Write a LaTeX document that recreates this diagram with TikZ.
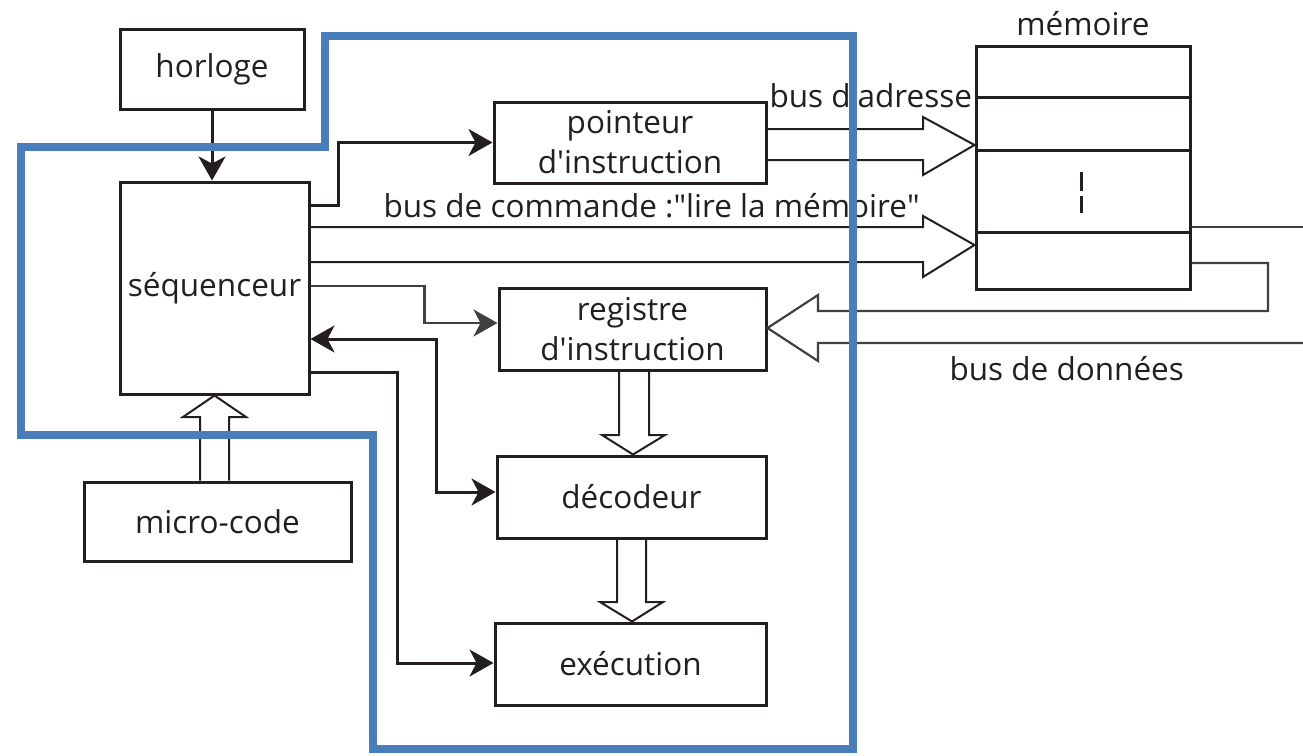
\documentclass[tikz,border=0pt]{standalone}
\usepackage{fontspec}
\setmainfont{Open Sans}
\usetikzlibrary{arrows.meta,calc}
\definecolor{ink}{HTML}{231F20}
\definecolor{wire}{HTML}{404040}
\definecolor{zone}{HTML}{4A7EBB}
\begin{document}
\begin{tikzpicture}[x=1pt,y=-1pt,
  txt/.style={font=\fontsize{31.5}{40}\selectfont, text=ink},
  box/.style={txt, draw=ink, line width=3pt, inner sep=0pt, align=center},
  conn/.style={draw=ink, line width=3pt,
    -{Stealth[length=24pt,width=27pt,inset=7pt]}},
  biconn/.style={draw=ink, line width=3pt,
    {Stealth[length=24pt,width=27pt,inset=7pt]}-{Stealth[length=24pt,width=27pt,inset=7pt]}},
  thinconn/.style={draw=wire, line width=2.2pt,
    -{Stealth[length=24pt,width=27pt,inset=7pt]}},
  hollow/.style={draw=ink, line width=2pt, line join=miter},
  databus/.style={draw=wire, line width=2.2pt, line join=miter},
  zoneline/.style={draw=zone, line width=8pt, line join=miter}]
\useasboundingbox (0,0) rectangle (1303,755);

% --- blocks ---
\node[box, minimum width=184pt, minimum height=80pt]  (clk)  at (212,69)     {horloge};
\node[box, minimum width=189pt, minimum height=212pt] (seq)  at (214.5,288)  {séquenceur};
\node[box, minimum width=267pt, minimum height=79pt]  (ucode) at (217.5,521.5) {micro-code};
\node[box, minimum width=272pt, minimum height=81pt]  (ip)   at (630,142.5)  {pointeur\\d\textquotesingle instruction};
\node[box, minimum width=267pt, minimum height=82pt]  (ir)   at (632.5,329)  {registre\\d\textquotesingle instruction};
\node[box, minimum width=269pt, minimum height=82pt]  (dec)  at (631.5,497)  {décodeur};
\node[box, minimum width=271pt, minimum height=82pt]  (exe)  at (630.5,664)  {exécution};

% memory with its cells
\node[draw=ink, line width=3pt, inner sep=0pt, minimum width=214pt, minimum height=243pt] (mem) at (1083,167.5) {};
\draw[ink, line width=3pt] (mem.west |- 0,97) -- (mem.east |- 0,97)
  (mem.west |- 0,150) -- (mem.east |- 0,150)
  (mem.west |- 0,232) -- (mem.east |- 0,232);
\draw[ink, line width=3pt] (1081,172) -- (1081,191) (1081,196) -- (1081,213);

% --- labels ---
\node[txt, anchor=base] (memlbl) at (1083,35) {mémoire};
\node[txt, anchor=base west] (adrlbl) at (766,107) {bus d\textquotesingle adresse};
\node[txt, anchor=base west] (cmdlbl) at (380,217) {bus de commande :\textquotedbl lire la mémoire\textquotedbl};
\node[txt, anchor=base west] (datlbl) at (946,380) {bus de données};

% --- control connectors ---
\draw[conn] (clk.south) -- (clk.south |- seq.north);
\draw[conn] ([yshift=-25pt]seq.north east) -- ++(28,0) |- (ip.west);
\draw[thinconn] ([yshift=2pt]seq.east) -- ++(114,0) |- ([yshift=6pt]ir.west);
\draw[biconn] ([yshift=-51pt]seq.east) -- ++(126,0) |- ([yshift=5pt]dec.west);
\draw[conn] ([yshift=-84pt]seq.east) -- ++(87,0) |- ([yshift=1pt]exe.west);

% --- wide buses ---
% address bus
\draw[hollow] (ip.east |- 0,129) -- (923,129) -- (923,117) -- (mem.west |- 0,145)
  -- (923,175) -- (923,160) -- (ip.east |- 0,160);
% command bus
\draw[hollow] (seq.east |- 0,227) -- (923,227) -- (923,216) -- (mem.west |- 0,245)
  -- (923,277) -- (923,262) -- (seq.east |- 0,262);
% data bus back to the instruction register
\coordinate (rim) at (1303,343);
\draw[databus] (mem.east |- 0,227) -- (1303,227);
\draw[databus] (mem.east |- 0,263) -- (1268,263) -- (1268,311) -- (818,311) -- (818,295)
  -- (ir.east |- 0,328) -- (818,361) -- (818,343) -- (rim);
% micro-code into the sequencer
\draw[hollow] (200,0 |- ucode.north) -- (200,417) -- (183,417) -- (seq.south)
  -- (246,417) -- (229,417) -- (229,0 |- ucode.north);
% instruction register -> decoder
\draw[hollow] (619,0 |- ir.south) -- (619,435) -- (602,435) -- (633,0 |- dec.north)
  -- (665,435) -- (649,435) -- (649,0 |- ir.south);
% decoder -> execution
\draw[hollow] (617,0 |- dec.south) -- (617,602) -- (600,602) -- (632,0 |- exe.north)
  -- (663,602) -- (646,602) -- (646,0 |- dec.south);

% --- processor outline ---
\draw[zoneline] (325,36) -- (853,36) -- (853,749) -- (373,749) -- (373,435)
  -- (21,435) -- (21,147) -- (325,147) -- cycle;
\end{tikzpicture}
\end{document}
